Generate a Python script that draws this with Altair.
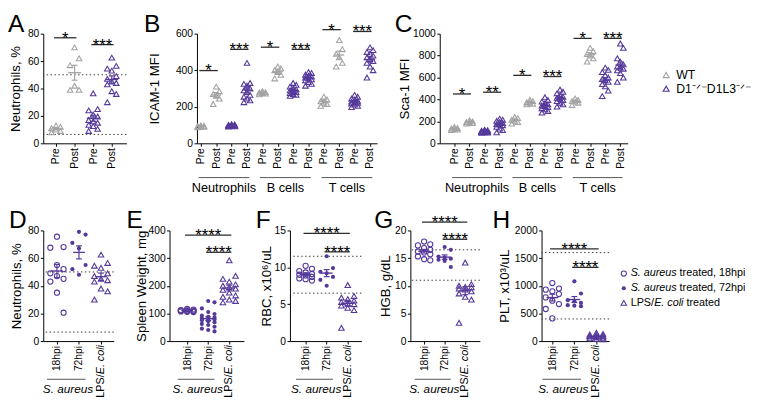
import altair as alt
import pandas as pd

FONT = "Liberation Sans"
GRAY = "#a3a3a3"
PURPLE = "#55399a"
INK = "#000000"
KO = "D1\u207b\u141f\u207bD1L3\u207b\u141f\u207b"

H1 = 112
H2 = 113

# ---------------- data ----------------
pre_post = ["Pre", "Post"]
geno4 = ["WT", "WT", KO, KO]
cell_groups = [("Neutrophils", 0, 3), ("B cells", 4, 7), ("T cells", 8, 11)]

# A: Neutrophils, %  (WT Pre, WT Post, KO Pre, KO Post)
A_values = [
    [13, 12, 11, 10, 9, 8],
    [70, 62, 57, 42, 39, 39],
    [36.5, 25, 24, 21, 19.5, 17, 16, 15, 13.5, 12.5, 10.5, 9],
    [62.5, 56.5, 54.5, 53, 49, 47, 45, 44, 43, 38, 36, 30],
]
A_refs = [50, 6.5]
A_sig = [(0, 1, 77, "*"), (2, 3, 72, "***")]

# B: ICAM-1 MFI (Neutrophils, B cells, T cells x WT/KO x Pre/Post)
B_values = [
    [98, 96, 94, 92, 90, 88],
    [310, 285, 270, 260, 245, 215],
    [105, 103, 101, 100, 99, 98, 97, 96, 95, 94, 93, 92],
    [440, 330, 325, 315, 300, 290, 280, 265, 255, 245, 235, 225],
    [285, 280, 278, 275, 272, 268],
    [420, 410, 400, 390, 375, 355],
    [330, 320, 310, 300, 295, 290, 285, 280, 275, 270, 265, 260],
    [390, 385, 375, 370, 365, 360, 355, 350, 345, 335, 325, 315],
    [255, 240, 230, 222, 215, 205],
    [565, 515, 490, 470, 440, 420],
    [265, 255, 245, 238, 232, 228, 225, 222, 218, 212, 205, 198],
    [525, 510, 500, 490, 480, 470, 460, 450, 440, 420, 400, 360],
]
B_sig = [(0, 1, 398, "*"), (2, 3, 514, "***"), (4, 5, 526, "*"),
         (6, 7, 514, "***"), (8, 9, 622, "*"), (10, 11, 612, "***")]

# C: Sca-1 MFI
C_values = [
    [150, 140, 135, 130, 125, 120],
    [210, 200, 195, 190, 185, 180],
    [125, 120, 115, 112, 110, 108, 106, 104, 102, 100, 98, 95],
    [225, 215, 205, 195, 185, 175, 170, 165, 150, 135, 120, 100],
    [240, 230, 215, 205, 195, 180],
    [395, 385, 375, 370, 360, 355],
    [420, 395, 380, 365, 355, 345, 340, 330, 320, 310, 295, 280],
    [490, 470, 455, 440, 425, 415, 405, 395, 385, 370, 355, 335],
    [410, 395, 385, 380, 370, 350],
    [870, 840, 815, 800, 775, 745],
    [690, 670, 650, 620, 600, 585, 575, 560, 540, 520, 480, 430],
    [910, 870, 775, 745, 720, 700, 690, 680, 665, 640, 600, 560],
]
C_sig = [(0, 1, 450, "*"), (2, 3, 466, "**"), (4, 5, 620, "*"),
         (6, 7, 609, "***"), (8, 9, 957, "*"), (10, 11, 957, "***")]

# bottom row: 18hpi (S. aureus), 72hpi (S. aureus), LPS/E. coli
D_values = [
    [75.5, 68, 67.5, 55, 52, 49, 47, 45, 43, 35, 20.5],
    [79, 77, 71, 67, 55, 52, 48],
    [62.5, 56.5, 54.5, 53, 49, 47, 45, 44, 43, 38, 36, 30],
]
D_refs = [50, 6.5]

E_values = [
    [116, 114, 112, 111, 110, 110, 109, 108, 107, 106, 105],
    [145, 140, 118, 105, 98, 92, 88, 85, 82, 80, 78, 75, 72, 68, 62, 58, 52, 45, 40, 35],
    [292, 236, 225, 215, 205, 200, 195, 190, 185, 175, 165, 160, 150, 145, 140],
]
E_sig = [(0, 2, 383, "****"), (1, 2, 321, "****")]

F_values = [
    [10.2, 9.8, 9.5, 9.3, 9.1, 9.0, 8.9, 8.7, 8.5, 8.4, 8.2],
    [11.5, 9.9, 9.4, 9.2, 8.7, 8.3, 7.5],
    [7.6, 6.1, 5.9, 5.7, 5.5, 5.3, 5.1, 5.0, 4.8, 4.5, 4.2, 1.8],
]
F_refs = [11.5, 6.5]
F_sig = [(0, 2, 14.6, "****"), (1, 2, 12.1, "****")]

G_values = [
    [18.0, 17.5, 17.3, 16.8, 16.5, 16.2, 16.0, 15.7, 15.3, 14.8, 14.6],
    [17.0, 16.5, 15.3, 15.1, 14.9, 14.7, 14.5, 13.4],
    [14.2, 10.3, 10.0, 9.8, 9.7, 9.5, 9.3, 9.0, 8.6, 8.0, 7.5, 3.3],
]
G_refs = [16.5, 11]
G_sig = [(0, 2, 21.5, "****"), (1, 2, 18.4, "****")]

H_values = [
    [1050, 950, 930, 900, 850, 790, 730, 670, 580, 410],
    [1080, 860, 740, 720, 690, 650, 640, 630],
    [150, 130, 120, 110, 100, 95, 90, 85, 80, 70, 60, 50, 40, 30],
]
H_refs = [1600, 400]
H_sig = [(0, 2, 1667, "****"), (1, 2, 1333, "****")]

bottom_labels = ["18hpi", "72hpi", ""]
bottom_groups = [("S. aureus", 0, 1)]


# ---------------- helpers ----------------
def js_list(items):
    return "[" + ",".join("'" + s + "'" for s in items) + "]"


def note(text, x, y, size, style="normal", align="left", baseline="alphabetic"):
    return alt.Chart(pd.DataFrame({"t": [text]})).mark_text(
        font=FONT, fontSize=size, fontStyle=style, align=align, baseline=baseline, color=INK,
    ).encode(x=alt.value(x), y=alt.value(y), text="t:N")


def glyph(x, y, shape, filled, size):
    return alt.Chart(pd.DataFrame({"t": [0]})).mark_point(
        shape=shape, filled=filled, size=size, color=PURPLE, opacity=1, strokeWidth=1.1
    ).encode(x=alt.value(x), y=alt.value(y))


def jittered(base, ju):
    return base.transform_window(
        r="row_number()", groupby=["idx"], sort=[alt.SortField("v", order="descending")]
    ).transform_calculate(
        xj="datum.idx + ((datum.r % 3) == 0 ? -1 : ((datum.r % 3) == 1 ? 0 : 1)) * " + str(ju)
    )


class Frame:
    """Shared x/y scale + axis definitions, repeated identically in every layer."""

    def __init__(self, xs, ys, xaxis, yaxis):
        self.xs, self.ys, self.xaxis, self.yaxis = xs, ys, xaxis, yaxis

    def X(self, f):
        return alt.X(f, scale=self.xs, axis=self.xaxis)

    def Y(self, f):
        return alt.Y(f, scale=self.ys, axis=self.yaxis)


def make_frame(xdom, ydom, yticks, labels, ylab, title_x):
    return Frame(
        alt.Scale(domain=xdom, nice=False, zero=False),
        alt.Scale(domain=ydom, nice=False),
        alt.Axis(values=list(range(len(labels))), labelExpr=js_list(labels) + "[datum.value]",
                 labelAngle=-90, title=None),
        alt.Axis(values=yticks, format="d", title=ylab, titleX=title_x, titleBaseline="middle"),
    )


def reflines(refs, fr):
    if not refs:
        return []
    return [alt.Chart(pd.DataFrame({"r": refs})).mark_rule(
        strokeDash=[1.5, 2.5], color="#3a3a3a", strokeWidth=1
    ).encode(y=fr.Y("r:Q"))]


def stats_layers(base, fr, mean_w, cap_w, colexpr):
    st = base.transform_aggregate(
        m="mean(v)", se="stderr(v)", groupby=["idx", "grp"]
    ).transform_calculate(lo="datum.m - datum.se", hi="datum.m + datum.se", col=colexpr)
    mean = st.mark_tick(orient="horizontal", size=mean_w, thickness=1.4, opacity=1).encode(
        x=fr.X("idx:Q"), y=fr.Y("m:Q"), fill=alt.Fill("col:N", scale=None))
    bar = st.mark_rule(strokeWidth=1.2).encode(
        x=fr.X("idx:Q"), y=fr.Y("lo:Q"), y2="hi:Q", stroke=alt.Stroke("col:N", scale=None))
    lo = st.mark_tick(orient="horizontal", size=cap_w, thickness=1.2, opacity=1).encode(
        x=fr.X("idx:Q"), y=fr.Y("lo:Q"), fill=alt.Fill("col:N", scale=None))
    hi = st.mark_tick(orient="horizontal", size=cap_w, thickness=1.2, opacity=1).encode(
        x=fr.X("idx:Q"), y=fr.Y("hi:Q"), fill=alt.Fill("col:N", scale=None))
    return [mean, bar, lo, hi]


def sig_layers(sig, fr):
    if not sig:
        return []
    sdf = pd.DataFrame(sig, columns=["a", "b", "y", "lab"])
    sb = alt.Chart(sdf).transform_calculate(
        sx="datum.a - 0.1", ex="datum.b + 0.1", mx="(datum.a + datum.b) / 2")
    bars = sb.mark_rule(color="#2b2b2b", strokeWidth=1.3).encode(
        x=fr.X("sx:Q"), x2="ex:Q", y=fr.Y("y:Q"))
    stars = sb.mark_text(font=FONT, fontSize=17, dy=6, baseline="alphabetic", color=INK).encode(
        x=fr.X("mx:Q"), y=fr.Y("y:Q"), text="lab:N")
    return [bars, stars]


def group_layers(groups, fr, y_line, y_text, size, style, lpad, rpad):
    if not groups:
        return []
    gdf = pd.DataFrame(groups, columns=["name", "s", "e"])
    gb = alt.Chart(gdf).transform_calculate(
        gs="datum.s - " + str(lpad), ge="datum.e + " + str(rpad), gm="(datum.s + datum.e) / 2")
    line = gb.mark_rule(color="#555555", strokeWidth=1).encode(
        x=fr.X("gs:Q"), x2="ge:Q", y=alt.value(y_line))
    txt = gb.mark_text(font=FONT, fontSize=size, fontStyle=style, baseline="alphabetic", color=INK).encode(
        x=fr.X("gm:Q"), y=alt.value(y_text), text="name:N")
    return [line, txt]


def long_df(values, groups):
    return pd.DataFrame([{"idx": i, "v": v, "grp": groups[i]}
                         for i, vals in enumerate(values) for v in vals])


def letter_mark(letter, dx):
    return note(letter, -dx, -22, 25, baseline="top")


def top_panel(letter, letter_dx, values, labels, geno, ylab, ydom, yticks, xdom, width,
              sig, refs, groups, title_x, ju, mean_w, cap_w, legend=None):
    df = long_df(values, geno)
    fr = make_frame(xdom, ydom, yticks, labels, ylab, title_x)
    base = alt.Chart(df)
    pts = jittered(base, ju).mark_point(
        shape="triangle-up", filled=False, size=32, strokeWidth=1.1, opacity=1
    ).encode(
        x=fr.X("xj:Q"),
        y=fr.Y("v:Q"),
        color=alt.Color("grp:N", scale=alt.Scale(domain=["WT", KO], range=[GRAY, PURPLE]),
                        legend=legend),
    )
    colexpr = "datum.grp == 'WT' ? '" + GRAY + "' : '" + PURPLE + "'"
    layers = (reflines(refs, fr) + [pts]
              + stats_layers(base, fr, mean_w, cap_w, colexpr)
              + sig_layers(sig, fr)
              + group_layers(groups, fr, H1 + 35, H1 + 50, 13, "normal", 0.15, 0.15)
              + [letter_mark(letter, letter_dx)])
    return alt.layer(*layers).properties(width=width, height=H1)


def bottom_panel(letter, letter_dx, values, ylab, ydom, yticks, xdom, width,
                 sig, refs, title_x, ju, extra=()):
    df = long_df(values, ["18hpi", "72hpi", "LPS"])
    fr = make_frame(xdom, ydom, yticks, bottom_labels, ylab, title_x)
    base = alt.Chart(df)
    jit = jittered(base, ju)
    p0 = jit.transform_filter("datum.idx == 0").mark_point(
        shape="circle", filled=False, size=28, strokeWidth=1.1, color=PURPLE, opacity=1
    ).encode(x=fr.X("xj:Q"), y=fr.Y("v:Q"))
    p1 = jit.transform_filter("datum.idx == 1").mark_point(
        shape="circle", filled=True, size=18, color=PURPLE, opacity=1
    ).encode(x=fr.X("xj:Q"), y=fr.Y("v:Q"))
    p2 = jit.transform_filter("datum.idx == 2").mark_point(
        shape="triangle-up", filled=False, size=32, strokeWidth=1.1, color=PURPLE, opacity=1
    ).encode(x=fr.X("xj:Q"), y=fr.Y("v:Q"))
    lps = pd.DataFrame({"idx": [2], "a": ["E. coli"], "b": ["LPS/"]})
    lps_it = alt.Chart(lps).mark_text(
        font=FONT, fontSize=11, fontStyle="italic", angle=270, align="right", baseline="middle", color=INK
    ).encode(x=fr.X("idx:Q"), y=alt.value(H2 + 4), text="a:N")
    lps_n = alt.Chart(lps).mark_text(
        font=FONT, fontSize=11, angle=270, align="right", baseline="middle", color=INK
    ).encode(x=fr.X("idx:Q"), y=alt.value(H2 + 34), text="b:N")
    layers = (reflines(refs, fr) + [p0, p1, p2]
              + stats_layers(base, fr, 12, 6, "'" + PURPLE + "'")
              + sig_layers(sig, fr)
              + group_layers(bottom_groups, fr, H2 + 39, H2 + 53, 12, "italic", 0.45, 0.3)
              + [lps_it, lps_n, letter_mark(letter, letter_dx)]
              + list(extra))
    return alt.layer(*layers).properties(width=width, height=H2)


# ---------------- panels ----------------
legend1 = alt.Legend(orient="none", legendX=225, legendY=36, title=None, direction="vertical",
                     symbolType="triangle-up", symbolSize=36, symbolStrokeWidth=1.2,
                     labelFontSize=12.5, labelFont=FONT, labelColor=INK, rowPadding=1,
                     padding=0, labelOffset=4, symbolOffset=0)

pA = top_panel("A", 36, A_values, pre_post * 2, geno4, "Neutrophils, %", [0, 80],
               [0, 20, 40, 60, 80], [-0.684, 3.789], 85, A_sig, A_refs, [], -28.5, 0.24, 13, 6)
pB = top_panel("B", 54, B_values, pre_post * 6, geno4 * 3, "ICAM-1 MFI", [0, 600],
               [0, 200, 400, 600], [-0.255, 11.46], 184, B_sig, [], cell_groups, -43.5, 0.2, 10, 5)
pC = top_panel("C", 46, C_values, pre_post * 6, geno4 * 3, "Sca-1 MFI", [0, 1000],
               [0, 200, 400, 600, 800, 1000], [-0.974, 11.49], 192, C_sig, [], cell_groups,
               -36, 0.2, 10, 5, legend=legend1)

leg2 = [
    glyph(84, 44, "circle", False, 28),
    note("S. aureus", 91, 44, 11, "italic", baseline="middle"),
    note("treated, 18hpi", 141, 44, 11, baseline="middle"),
    glyph(84, 59, "circle", True, 18),
    note("S. aureus", 91, 59, 11, "italic", baseline="middle"),
    note("treated, 72hpi", 141, 59, 11, baseline="middle"),
    glyph(84, 74, "triangle-up", False, 32),
    note("LPS/", 91, 74, 11, baseline="middle"),
    note("E. coli", 115, 74, 11, "italic", baseline="middle"),
    note("treated", 148, 74, 11, baseline="middle"),
]

pD = bottom_panel("D", 35, D_values, "Neutrophils, %", [0, 80], [0, 20, 40, 60, 80],
                  [-0.622, 2.578], 72, [], D_refs, -27.5, 0.3)
pE = bottom_panel("E", 44, E_values, "Spleen Weight, mg", [0, 400], [0, 100, 200, 300, 400],
                  [-0.837, 2.698], 76, E_sig, [], -29, 0.3)
pF = bottom_panel("F", 35, F_values, "RBC, x10\u2076/uL", [0, 15], [0, 5, 10, 15],
                  [-0.744, 2.651], 73, F_sig, F_refs, -24, 0.3)
pG = bottom_panel("G", 37, G_values, "HGB, g/dL", [0, 20], [0, 5, 10, 15, 20],
                  [-0.667, 2.714], 71, G_sig, G_refs, -25, 0.3)
pH = bottom_panel("H", 50, H_values, "PLT, x10\u00b3/uL", [0, 2000], [0, 500, 1000, 1500, 2000],
                  [-0.489, 2.578], 69, H_sig, H_refs, -38, 0.3, extra=leg2)

row1 = alt.hconcat(pA, pB, pC, spacing=17).resolve_scale(color="independent")
row2 = alt.hconcat(pD, pE, pF, pG, pH, spacing=12).resolve_scale(color="independent")

chart = alt.vconcat(row1, row2, spacing=14).resolve_scale(color="independent").properties(
    padding={"left": 0, "top": 0, "right": 0, "bottom": 0}, background="white"
).configure(font=FONT).configure_view(stroke=None).configure_axis(
    domainColor=INK, tickColor=INK, labelColor=INK, titleColor=INK,
    labelFont=FONT, titleFont=FONT, labelFontSize=10.5, titleFontSize=13.5,
    titleFontWeight="normal", grid=False, tickSize=3, labelPadding=1.5,
    domainWidth=1, tickWidth=1, labelFlush=False, labelOverlap=False,
)

chart.save("out.html", embed_options={"renderer": "svg", "actions": False})
